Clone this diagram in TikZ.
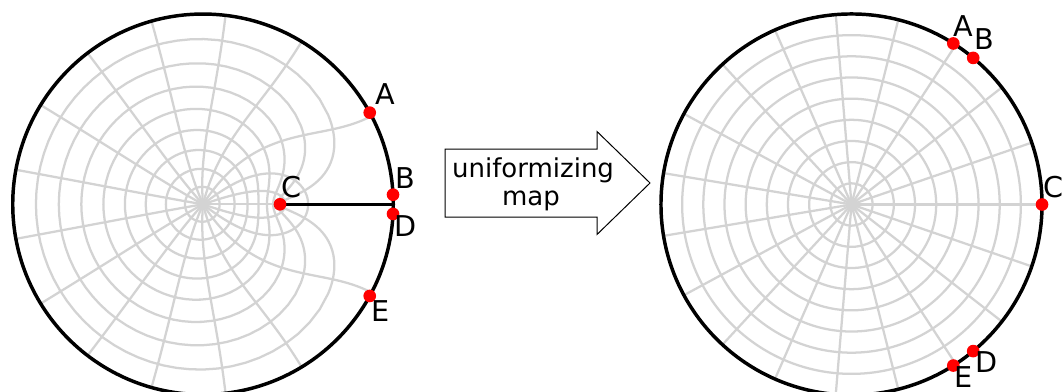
\documentclass[tikz,border=0pt]{standalone}
\usepackage{fontspec}
\setmainfont{DejaVu Sans}
\definecolor{gridgray}{RGB}{211,211,211}
\tikzset{
  gridline/.style={draw=gridgray, line width=1.7pt, line join=round},
  rim/.style={draw=black, line width=2.6pt},
  slit/.style={draw=black, line width=2.6pt},
  dot/.style={circle, fill=red, inner sep=0pt, minimum size=9.5pt},
  lab/.style={inner sep=0pt, font=\fontsize{21.5}{25}\selectfont},
  maptext/.style={inner sep=0pt, font=\fontsize{19.5}{23}\selectfont},
  arrowshape/.style={draw=black, line width=0.75pt, fill=white, line join=miter},
}
\def\kmu{0.8203}
% inverse uniformizing map: w = r e^{i phi} (phi in degrees) -> z = (\zx,\zy)
\newcommand\zmap[2]{%
  \edef\zc{\fpeval{cosd(#2)}}%
  \edef\zs{\fpeval{sind(#2)}}%
  \edef\zD{\fpeval{1+(#1)*(#1)+2*(#1)*(\zc)}}%
  \edef\za{\fpeval{(1-(#1)*(#1))/(\zD)}}%
  \edef\zb{\fpeval{-2*(#1)*(\zs)/(\zD)}}%
  \edef\zp{\fpeval{1-\kmu+\kmu*((\za)*(\za)-(\zb)*(\zb))}}%
  \edef\zq{\fpeval{2*\kmu*(\za)*(\zb)}}%
  \edef\zm{\fpeval{sqrt((\zp)*(\zp)+(\zq)*(\zq))}}%
  \edef\zu{\fpeval{sqrt(max(0,((\zm)+(\zp))/2))}}%
  \edef\zv{\fpeval{-sign(\zs)*sqrt(max(0,((\zm)-(\zp))/2))}}%
  \edef\zn{\fpeval{(1+(\zu))^2+(\zv)^2}}%
  \edef\zx{\fpeval{round((1-(\zu)*(\zu)-(\zv)*(\zv))/(\zn),5)}}%
  \edef\zy{\fpeval{round(-2*(\zv)/(\zn),5)}}%
}
\newcommand\zaddpt[2]{\zmap{#1}{#2}\xdef\zpts{\zpts (\zx,\zy)}}
\begin{document}
\begin{tikzpicture}[x=0.75pt, y=-0.75pt]
\useasboundingbox (0,0) rectangle (1062,392);

% ---------- left: slit disk ----------
\begin{scope}[shift={(203,204.3)}, x=142.7pt, y=142.7pt]
  % images of the circles |w| = k/9
  \foreach \k in {1,...,8}{%
    \gdef\zpts{}%
    \foreach \ph in {-180,-176,...,-64}{\zaddpt{\k/9}{\ph}}%
    \foreach \ph in {-60,-59,...,60}{\zaddpt{\k/9}{\ph}}%
    \foreach \ph in {64,68,...,180}{\zaddpt{\k/9}{\ph}}%
    \edef\zcmd{\noexpand\draw[gridline] plot coordinates {\zpts};}\zcmd
  }
  % images of the rays
  \foreach \k in {0,...,18}{%
    \gdef\zpts{}%
    \foreach \i in {0,...,80}{\zaddpt{\i/80}{\k*360/19}}%
    \edef\zcmd{\noexpand\draw[gridline] plot coordinates {\zpts};}\zcmd
  }
  \draw[rim] (0,0) circle (1);
  \coordinate (slitend) at (1,0);
  \coordinate (slittip) at (0.4046,0);
  \draw[slit] (slittip) -- (slitend);
  \node[dot] (LC) at (slittip) {};
  \node[dot] (LA) at (28.8:1) {};
  \node[dot] (LB) at (2.9:1) {};
  \node[dot] (LD) at (-2.9:1) {};
  \node[dot] (LE) at (-28.8:1) {};
\end{scope}

% ---------- right: unit disk ----------
\begin{scope}[shift={(851.5,204.5)}, x=142.9pt, y=142.9pt]
  \foreach \k in {1,...,8}{\draw[gridline] (0,0) circle (\k/9);}
  \foreach \k in {0,...,18}{\draw[gridline] (0,0) -- (\k*360/19:1);}
  \draw[rim] (0,0) circle (1);
  \node[dot] (RA) at (57.7:1) {};
  \node[dot] (RB) at (50.3:1) {};
  \node[dot] (RC) at (0:1) {};
  \node[dot] (RD) at (-50.3:1) {};
  \node[dot] (RE) at (-57.7:1) {};
\end{scope}

% ---------- labels ----------
\node[lab, anchor=base west] (tLA) at (375,105) {A};
\node[lab, anchor=base west] (tLB) at (395,188) {B};
\node[lab, anchor=base west] (tLC) at (281,197) {C};
\node[lab, anchor=base west] (tLD) at (394,236) {D};
\node[lab, anchor=base west] (tLE) at (371,321) {E};
\node[lab, anchor=base west] (tRA) at (953,37) {A};
\node[lab, anchor=base west] (tRB) at (974,50) {B};
\node[lab, anchor=base west] (tRC) at (1043,197) {C};
\node[lab, anchor=base west] (tRD) at (975,372) {D};
\node[lab, anchor=base west] (tRE) at (954,387) {E};

% ---------- block arrow ----------
\draw[arrowshape] (445,149) -- (597,149) -- (597,131.5) -- (650,183)
  -- (597,234.5) -- (597,217) -- (445,217) -- cycle;
\node[maptext, anchor=base] (t1) at (533,177) {uniformizing};
\node[maptext, anchor=base] (t2) at (531,205) {map};
\end{tikzpicture}
\end{document}
